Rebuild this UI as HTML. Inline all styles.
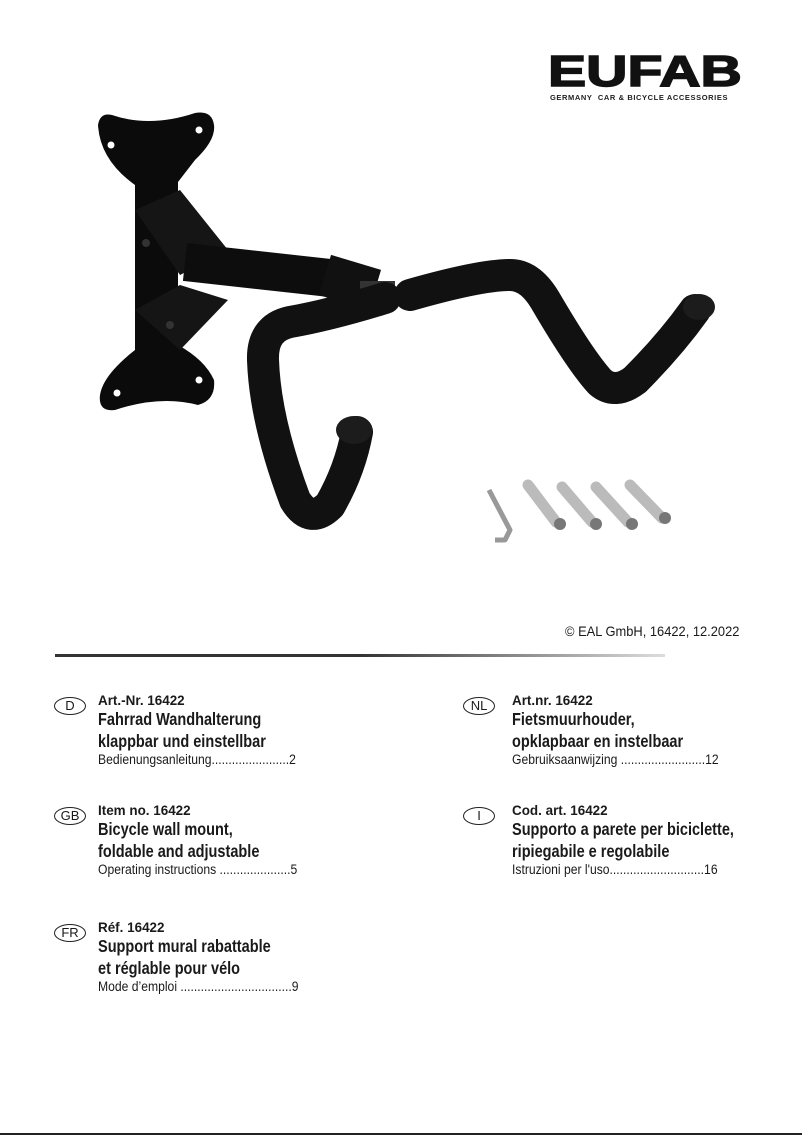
<!DOCTYPE html>
<html><head><meta charset="utf-8"><style>
html,body{margin:0;padding:0;background:#fff}
body{width:802px;height:1136px;position:relative;overflow:hidden;font-family:"Liberation Sans",sans-serif;color:#1a1a1a}
.a{position:absolute}
.ov{position:absolute;width:30px;height:16px;border:1.6px solid #222;border-radius:50%;font-size:13px;line-height:16px;text-align:center;font-family:"Liberation Sans",sans-serif}
.art{font-weight:bold;font-size:14px;transform:scaleX(0.96);transform-origin:left top;white-space:nowrap}
.t{font-weight:bold;font-size:17.5px;line-height:22px;transform:scaleX(0.83);transform-origin:left top;white-space:nowrap}
.d{font-size:13.5px;transform:scaleX(0.9);transform-origin:left top;white-space:nowrap}
</style></head><body>
<div class="a" style="left:548px;top:50px;font-family:'Liberation Sans',sans-serif;font-weight:900;font-size:44px;letter-spacing:0px;transform:scaleX(1.3);transform-origin:left top;line-height:44px;color:#111;-webkit-text-stroke:1.5px #111">EUFAB</div>
<div class="a" style="left:550px;top:93px;font-family:'Liberation Sans',sans-serif;font-weight:bold;font-size:7.5px;letter-spacing:0.6px;color:#222;white-space:nowrap">GERMANY&nbsp;&nbsp;CAR &amp; BICYCLE ACCESSORIES</div>

<svg class="a" style="left:0;top:0" width="802" height="600" viewBox="0 0 802 600">
<g fill="#0b0b0b">
<path d="M98 125 Q100 112 112 115 Q150 128 195 113 Q212 110 214 125 Q216 140 195 160 L178 182 L178 345 Q205 360 214 380 Q216 400 198 405 Q160 395 115 410 Q98 412 100 395 Q103 375 135 350 L135 185 Q100 160 98 125Z"/>
<path d="M135 210 L180 190 L228 250 L180 275Z" fill="#151515"/>
<path d="M135 310 L180 285 L228 300 L180 350Z" fill="#151515"/>
</g>
<g fill="#fff"><circle cx="111" cy="145" r="3.5"/><circle cx="199" cy="130" r="3.5"/><circle cx="117" cy="393" r="3.5"/><circle cx="199" cy="380" r="3.5"/></g>
<circle cx="146" cy="243" r="4" fill="#333"/><circle cx="170" cy="325" r="4" fill="#333"/>
<path d="M185 262 L330 278" stroke="#0d0d0d" stroke-width="38" stroke-linecap="butt"/>
<path d="M325 275 L375 290" stroke="#111" stroke-width="42"/>
<path d="M360 292 L395 292" stroke="#333" stroke-width="22"/>
<path d="M385 298 Q330 315 290 322 Q262 328 263 360 Q265 420 295 500 Q310 525 330 505 Q350 470 357 432" fill="none" stroke="#111" stroke-width="32" stroke-linecap="round" stroke-linejoin="round"/>
<ellipse cx="354" cy="430" rx="18" ry="14" fill="#1c1c1c"/>
<path d="M410 295 Q480 275 510 275 Q530 275 545 300 Q580 360 600 382 Q615 395 635 380 Q670 345 695 310" fill="none" stroke="#111" stroke-width="32" stroke-linecap="round" stroke-linejoin="round"/>
<ellipse cx="699" cy="307" rx="16" ry="13" fill="#1c1c1c"/>
<path d="M489 490 L510 530 L505 540 L495 540" fill="none" stroke="#999" stroke-width="5" stroke-linejoin="round"/>
<g stroke="#bbb" stroke-width="11" stroke-linecap="round">
<path d="M528 485 L556 522"/><path d="M562 487 L592 522"/><path d="M596 487 L628 522"/><path d="M630 485 L662 518"/>
</g>
<g fill="#777"><circle cx="560" cy="524" r="6"/><circle cx="596" cy="524" r="6"/><circle cx="632" cy="524" r="6"/><circle cx="665" cy="518" r="6"/></g>
</svg>

<div class="a" style="left:565px;top:623px;font-size:14px;transform:scaleX(0.92);transform-origin:left top;white-space:nowrap">© EAL GmbH, 16422, 12.2022</div>
<div class="a" style="left:55px;top:654px;width:610px;height:3px;background:linear-gradient(90deg,#333,#333 50%,#ddd)"></div>

<div class="ov" style="left:54px;top:697px">D</div>
<div class="a" style="left:98px;top:692px"><div class="art">Art.-Nr. 16422</div><div class="t">Fahrrad Wandhalterung<br>klappbar und einstellbar</div><div class="d">Bedienungsanleitung.......................2</div></div>

<div class="ov" style="left:54px;top:807px">GB</div>
<div class="a" style="left:98px;top:802px"><div class="art">Item no. 16422</div><div class="t">Bicycle wall mount,<br>foldable and adjustable</div><div class="d">Operating instructions .....................5</div></div>

<div class="ov" style="left:54px;top:924px">FR</div>
<div class="a" style="left:98px;top:919px"><div class="art">Réf. 16422</div><div class="t">Support mural rabattable<br>et réglable pour vélo</div><div class="d">Mode d’emploi .................................9</div></div>

<div class="ov" style="left:463px;top:697px">NL</div>
<div class="a" style="left:512px;top:692px"><div class="art">Art.nr. 16422</div><div class="t">Fietsmuurhouder,<br>opklapbaar en instelbaar</div><div class="d">Gebruiksaanwijzing .........................12</div></div>

<div class="ov" style="left:463px;top:807px">I</div>
<div class="a" style="left:512px;top:802px"><div class="art">Cod. art. 16422</div><div class="t">Supporto a parete per biciclette,<br>ripiegabile e regolabile</div><div class="d">Istruzioni per l'uso............................16</div></div>

<div class="a" style="left:0;top:1133px;width:802px;height:2px;background:#222"></div>
</body></html>
